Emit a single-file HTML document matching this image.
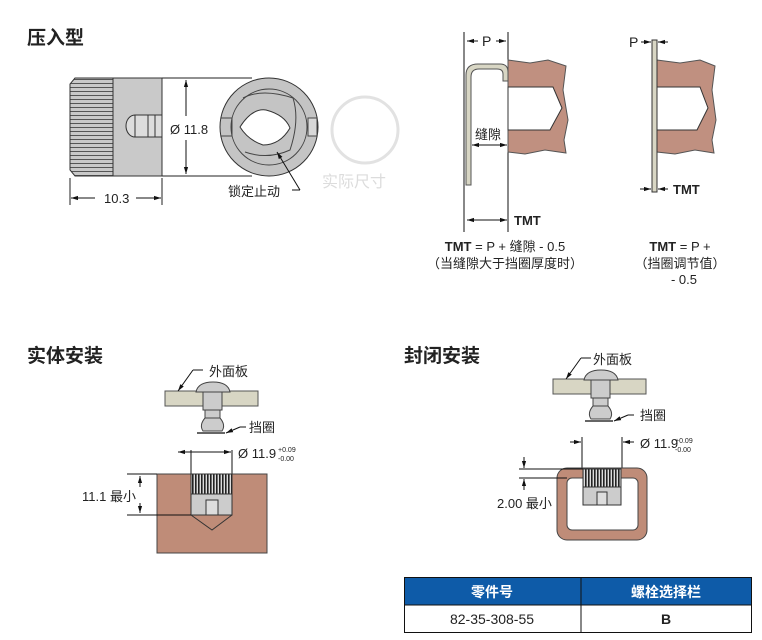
<!DOCTYPE html>
<html><head><meta charset="utf-8"><style>
body{margin:0;background:#fff}
svg{display:block}
text{font-family:"Liberation Sans","Noto Sans CJK SC",sans-serif;fill:#222}
.n{font-family:"Liberation Sans Narrow","Liberation Sans","Noto Sans CJK SC",sans-serif}
</style></head><body>
<svg width="762" height="640" viewBox="0 0 762 640" xmlns="http://www.w3.org/2000/svg">
<defs>
<marker id="a" viewBox="0 0 10 10" refX="10" refY="5" markerWidth="7" markerHeight="7" orient="auto-start-reverse"><path d="M0,2L10,5L0,8z" fill="#111"/></marker>
<pattern id="kh" width="4" height="4" patternUnits="userSpaceOnUse"><rect width="4" height="4" fill="#c9c9c9"/><rect y="3" width="4" height="1" fill="#555"/></pattern>
<pattern id="kv" width="3" height="3" patternUnits="userSpaceOnUse"><rect width="3" height="3" fill="#ddd"/><rect width="1.6" height="3" fill="#222"/></pattern>
</defs>

<!-- Section 1 -->
<text x="27" y="44" font-size="19" font-weight="bold">压入型</text>
<path d="M75,78 L113,78 L113,176 L75,176 L70,170 L70,84z" fill="url(#kh)" stroke="#333"/>
<path d="M113,78 H162 V115 H135 V137 H162 V176 H113z" fill="#c9c9c9" stroke="#333"/>
<rect x="135" y="115" width="27" height="22" fill="#ddd" stroke="#333"/>
<line x1="148" y1="115" x2="148" y2="137" stroke="#333"/><line x1="155" y1="115" x2="155" y2="137" stroke="#333"/>
<path d="M135,115 A9,11 0 0 0 135,137z" fill="#ddd" stroke="#333"/>
<line x1="162" y1="78" x2="252" y2="78" stroke="#222"/><line x1="162" y1="176" x2="252" y2="176" stroke="#222"/>
<line x1="186" y1="80" x2="186" y2="116" stroke="#111" marker-start="url(#a)"/>
<line x1="186" y1="140" x2="186" y2="174" stroke="#111" marker-end="url(#a)"/>
<text x="170" y="134" font-size="13" class="n">Ø 11.8</text>
<line x1="70" y1="178" x2="70" y2="205" stroke="#222"/><line x1="162" y1="178" x2="162" y2="205" stroke="#222"/>
<line x1="71" y1="198" x2="95" y2="198" stroke="#111" marker-start="url(#a)"/>
<line x1="136" y1="198" x2="161" y2="198" stroke="#111" marker-end="url(#a)"/>
<text x="104" y="203" font-size="13" class="n">10.3</text>
<circle cx="269" cy="127" r="49" fill="#c4c4c4" stroke="#333"/>
<circle cx="269" cy="127" r="38" fill="none" stroke="#444"/>
<path d="M221,118 H232 V136 H221" fill="none" stroke="#444"/>
<rect x="308" y="118" width="9" height="18" fill="#d8d8d8" stroke="#444"/>
<path d="M243,98 Q262,88 293,98 Q300,120 290,150 Q268,160 245,152" fill="none" stroke="#444"/>
<path d="M240,127 Q252,108 266,110 Q285,115 290,128 Q280,145 263,145 Q248,140 240,127z" fill="#fff" stroke="#333"/>
<line x1="300" y1="190" x2="277" y2="152" stroke="#111" marker-end="url(#a)"/>
<line x1="292" y1="190" x2="300" y2="190" stroke="#111"/>
<text x="228" y="196" font-size="13">锁定止动</text>
<circle cx="365" cy="130" r="33" fill="none" stroke="#e2e2e2" stroke-width="3"/>
<text x="322" y="187" font-size="16" style="fill:#dcdcdc">实际尺寸</text>

<!-- Clip left -->
<line x1="464" y1="32" x2="464" y2="232" stroke="#111"/>
<line x1="508" y1="32" x2="508" y2="232" stroke="#111"/>
<line x1="467" y1="41" x2="478" y2="41" stroke="#111" marker-start="url(#a)"/>
<line x1="496" y1="41" x2="506" y2="41" stroke="#111" marker-end="url(#a)"/>
<text x="482" y="46" font-size="14" class="n">P</text>
<path d="M508,60 L530,63 L548,60 L566,66 L563,90 L568,120 L564,140 L566,153 L545,150 L525,154 L508,152z" fill="#c09080" stroke="#555"/>
<path d="M508,87 H553 L562,108 L550,130 H508z" fill="#fff" stroke="#333"/>
<path d="M466,185 V75 Q466,64 478,64 H500 Q508,64 508,72 V81 H503 V74 Q503,69 497,69 H479 Q471,69 471,77 V185z" fill="#d8d6c4" stroke="#555"/>
<text x="475" y="139" font-size="13">缝隙</text>
<line x1="472" y1="145" x2="507" y2="145" stroke="#111" marker-start="url(#a)" marker-end="url(#a)"/>
<line x1="467" y1="220" x2="507" y2="220" stroke="#111" marker-start="url(#a)" marker-end="url(#a)"/>
<text x="514" y="225" font-size="13" font-weight="bold" class="n">TMT</text>
<text x="505" y="251" font-size="13" text-anchor="middle" class="n"><tspan font-weight="bold">TMT</tspan> = P + 缝隙 - 0.5</text>
<text x="505" y="268" font-size="13" text-anchor="middle">（当缝隙大于挡圈厚度时）</text>

<!-- Clip right -->
<path d="M657,60 L680,63 L700,60 L715,66 L712,90 L716,120 L712,140 L714,153 L695,150 L675,154 L657,152z" fill="#c09080" stroke="#555"/>
<path d="M657,87 H700 L708,108 L697,130 H657z" fill="#fff" stroke="#333"/>
<rect x="652" y="40" width="5" height="152" fill="#d8d6c4" stroke="#333"/>
<text x="629" y="47" font-size="14" class="n">P</text>
<line x1="641" y1="42" x2="651" y2="42" stroke="#111" marker-end="url(#a)"/>
<line x1="668" y1="42" x2="658" y2="42" stroke="#111" marker-end="url(#a)"/>
<line x1="640" y1="189" x2="651" y2="189" stroke="#111" marker-end="url(#a)"/>
<line x1="668" y1="189" x2="658" y2="189" stroke="#111" marker-end="url(#a)"/>
<text x="673" y="194" font-size="13" font-weight="bold" class="n">TMT</text>
<text x="680" y="251" font-size="13" text-anchor="middle" class="n"><tspan font-weight="bold">TMT</tspan> = P +</text>
<text x="680" y="268" font-size="13" text-anchor="middle">（挡圈调节值）</text>
<text x="684" y="284" font-size="13" text-anchor="middle" class="n">- 0.5</text>

<!-- Section 2 -->
<text x="27" y="362" font-size="19" font-weight="bold">实体安装</text>
<g id="scr">
<rect x="165" y="391" width="93" height="15" fill="#d8d6c4" stroke="#555"/>
<path d="M196,392 Q198,382 213,382 Q228,382 230,392z" fill="#ccc" stroke="#444"/>
<rect x="203" y="392" width="19" height="18" fill="#ccc" stroke="#444"/>
<rect x="205" y="410" width="15" height="8" fill="#ccc" stroke="#444"/>
<path d="M205,418 Q199,425 203,431 H222 Q226,425 220,418z" fill="#ccc" stroke="#444"/>
<rect x="197" y="432" width="28" height="2" fill="#666"/>
<line x1="178" y1="391" x2="193" y2="370" stroke="#111" marker-start="url(#a)"/><line x1="193" y1="370" x2="203" y2="370" stroke="#111"/>
<line x1="226" y1="433" x2="240" y2="427" stroke="#111" marker-start="url(#a)"/><line x1="240" y1="427" x2="246" y2="427" stroke="#111"/>
</g>
<text x="209" y="376" font-size="13">外面板</text>
<text x="249" y="432" font-size="13">挡圈</text>
<line x1="191" y1="450" x2="191" y2="474" stroke="#111"/><line x1="232" y1="450" x2="232" y2="474" stroke="#111"/>
<line x1="178" y1="452" x2="231" y2="452" stroke="#111" marker-start="url(#a)" marker-end="url(#a)"/>
<text x="238" y="458" font-size="13" class="n">Ø 11.9</text>
<text x="278" y="452" font-size="7">+0.09</text><text x="278" y="461" font-size="7">-0.00</text>
<rect x="157" y="474" width="110" height="79" fill="#bf8c78" stroke="#444"/>
<path d="M191,515 L212,530 L232,515" fill="none" stroke="#333"/>
<rect x="191" y="474" width="41" height="20" fill="url(#kv)" stroke="#333"/>
<path d="M191,494 H232 V515 H218 V505 H206 V515 H191z" fill="#ccc" stroke="#333"/>
<rect x="206" y="500" width="12" height="15" fill="#ddd" stroke="#333"/>
<line x1="127" y1="474" x2="157" y2="474" stroke="#111"/><line x1="127" y1="515" x2="191" y2="515" stroke="#111"/>
<line x1="140" y1="476" x2="140" y2="487" stroke="#111" marker-start="url(#a)"/>
<line x1="140" y1="503" x2="140" y2="513" stroke="#111" marker-end="url(#a)"/>
<text x="82" y="501" font-size="13" class="n">11.1 最小</text>

<!-- Section 3 -->
<text x="404" y="362" font-size="19" font-weight="bold">封闭安装</text>
<g transform="translate(388,-12)"><use href="#scr"/></g>
<text x="593" y="364" font-size="13">外面板</text>
<text x="640" y="420" font-size="13">挡圈</text>
<line x1="582" y1="437" x2="582" y2="469" stroke="#111"/><line x1="622" y1="437" x2="622" y2="469" stroke="#111"/>
<line x1="570" y1="442" x2="581" y2="442" stroke="#111" marker-end="url(#a)"/>
<line x1="634" y1="442" x2="623" y2="442" stroke="#111" marker-end="url(#a)"/>
<text x="640" y="448" font-size="13" class="n">Ø 11.9</text>
<text x="675" y="443" font-size="7">+0.09</text><text x="675" y="452" font-size="7">-0.00</text>
<rect x="557" y="468" width="90" height="72" rx="10" fill="#bf8c78" stroke="#444"/>
<rect x="567" y="478" width="71" height="52" rx="5" fill="#fff" stroke="#444"/>
<rect x="583" y="469" width="38" height="18" fill="url(#kv)" stroke="#333"/>
<path d="M583,487 H621 V505 H607 V497 H597 V505 H583z" fill="#ccc" stroke="#333"/>
<rect x="597" y="492" width="10" height="13" fill="#ddd" stroke="#333"/>
<line x1="519" y1="469" x2="583" y2="469" stroke="#111"/><line x1="519" y1="478" x2="567" y2="478" stroke="#111"/>
<line x1="524" y1="457" x2="524" y2="468" stroke="#111" marker-end="url(#a)"/>
<line x1="524" y1="490" x2="524" y2="479" stroke="#111" marker-end="url(#a)"/>
<text x="497" y="508" font-size="13" class="n">2.00 最小</text>

<!-- Table -->
<rect x="404" y="577" width="348" height="28" fill="#0e5ba8"/>
<rect x="404.5" y="577.5" width="347" height="55" fill="none" stroke="#111"/>
<line x1="404" y1="605" x2="752" y2="605" stroke="#111"/>
<line x1="581" y1="577" x2="581" y2="633" stroke="#111"/>
<text x="492" y="597" font-size="14" font-weight="bold" text-anchor="middle" style="fill:#fff">零件号</text>
<text x="666" y="597" font-size="14" font-weight="bold" text-anchor="middle" style="fill:#fff">螺栓选择栏</text>
<text x="492" y="624" font-size="14" text-anchor="middle" class="n">82-35-308-55</text>
<text x="666" y="624" font-size="14" font-weight="bold" text-anchor="middle" class="n">B</text>
</svg>
</body></html>
